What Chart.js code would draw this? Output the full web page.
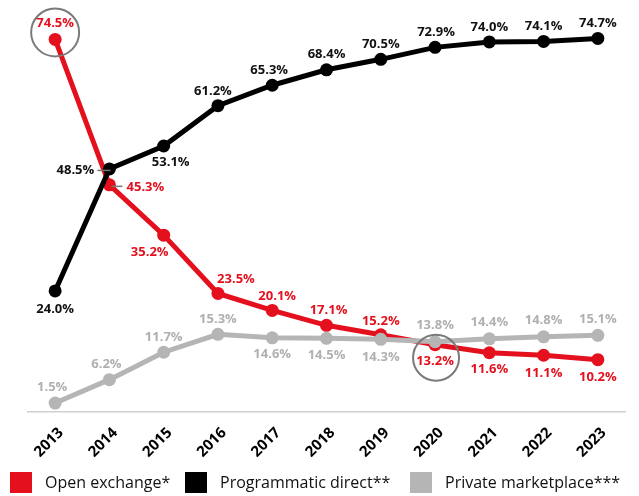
<!DOCTYPE html>
<html>
<head>
<meta charset="utf-8">
<script src="https://cdn.jsdelivr.net/npm/chart.js@4.4.0/dist/chart.umd.min.js"></script>
<style>
html,body{margin:0;padding:0;background:#fff;}
#wrap{position:relative;width:639px;height:496px;}
#legend{position:absolute;left:0;top:472px;width:639px;height:22px;font-family:"Open Sans","DejaVu Sans",sans-serif;font-size:16px;font-weight:500;color:#111;}
#legend .it{position:absolute;top:0;height:21px;line-height:21px;white-space:nowrap;}
#legend .sw{position:absolute;top:0;width:22px;height:21px;}
</style>
</head>
<body>
<div id="wrap"><canvas id="c" width="639" height="496"></canvas><div id="legend"></div></div>
<script>
const years = ['2013','2014','2015','2016','2017','2018','2019','2020','2021','2022','2023'];
const openExchange = [74.5, 45.3, 35.2, 23.5, 20.1, 17.1, 15.2, 13.2, 11.6, 11.1, 10.2];
const programmaticDirect = [24.0, 48.5, 53.1, 61.2, 65.3, 68.4, 70.5, 72.9, 74.0, 74.1, 74.7];
const privateMarketplace = [1.5, 6.2, 11.7, 15.3, 14.6, 14.5, 14.3, 13.8, 14.4, 14.8, 15.1];
const seriesNames = ['Open exchange*', 'Programmatic direct**', 'Private marketplace***'];

// label placement (style only): [dx, dy] relative to the point
const openLabelPos = [[0,-16],[36,2],[-14,17],[18,-14],[5,-14],[2,-15],[0,-14],[0,17],[0,17],[0,18],[0,18]];
const directLabelPos = [[0,18],[-34,1],[7,16],[-5,-14],[-3,-15],[0,-15],[0,-15],[1,-15],[0,-15],[0,-15],[0,-15]];
const privateLabelPos = [[-3,-16],[-3,-15],[0,-15],[0,-15],[0,17],[0,17],[0,18],[0,-16],[0,-16],[0,-16],[0,-16]];
const legendX = [10, 185, 410];

const RED = '#e5101d', BLACK = '#000000', GREY = '#b5b5b5';
const FONT = '"Open Sans", "DejaVu Sans", sans-serif';

const labelPlugin = {
  id: 'valueLabels',
  afterDatasetsDraw(chart) {
    const ctx = chart.ctx;
    const cfg = [
      {ds: 0, pos: openLabelPos, color: RED},
      {ds: 1, pos: directLabelPos, color: '#111'},
      {ds: 2, pos: privateLabelPos, color: '#b0b0b0'}
    ];
    const x = chart.scales.x, y = chart.scales.y;
    ctx.save();
    ctx.strokeStyle = '#7a7a7a';
    ctx.lineWidth = 2;
    const c1x = x.getPixelForValue(0), c1y = y.getPixelForValue(openExchange[0]);
    ctx.beginPath(); ctx.arc(c1x, c1y - 7, 24, 0, Math.PI * 2); ctx.stroke();
    const c2x = x.getPixelForValue(7), c2y = y.getPixelForValue(openExchange[7]);
    ctx.beginPath(); ctx.arc(c2x + 1, c2y + 13, 23, 0, Math.PI * 2); ctx.stroke();
    ctx.strokeStyle = '#777';
    ctx.lineWidth = 1.5;
    const p14 = x.getPixelForValue(1);
    const yd = y.getPixelForValue(programmaticDirect[1]);
    ctx.beginPath(); ctx.moveTo(p14 - 12, yd + 1.5); ctx.lineTo(p14 + 1, yd + 1.5); ctx.stroke();
    const yo = y.getPixelForValue(openExchange[1]);
    ctx.beginPath(); ctx.moveTo(p14 + 2, yo + 1.5); ctx.lineTo(p14 + 13, yo + 1.5); ctx.stroke();

    ctx.font = 'bold 13px ' + FONT;
    ctx.textAlign = 'center';
    ctx.textBaseline = 'middle';
    const dataArrs = [openExchange, programmaticDirect, privateMarketplace];
    cfg.forEach(c => {
      const meta = chart.getDatasetMeta(c.ds);
      ctx.fillStyle = c.color;
      meta.data.forEach((pt, i) => {
        const v = dataArrs[c.ds][i];
        ctx.fillText(v.toFixed(1) + '%', pt.x + c.pos[i][0], pt.y + c.pos[i][1]);
      });
    });
    ctx.restore();
  }
};

const mk = (label, data, color, order) => ({
  label, data, order,
  borderColor: color, backgroundColor: color,
  pointBackgroundColor: color, pointBorderColor: color,
  borderWidth: 5, pointRadius: 6.5, pointHoverRadius: 6.5, tension: 0,
  pointBorderWidth: 0
});

const datasets = [
  mk(seriesNames[0], openExchange, RED, 3),
  mk(seriesNames[1], programmaticDirect, BLACK, 1),
  mk(seriesNames[2], privateMarketplace, GREY, 2)
];

new Chart(document.getElementById('c'), {
  type: 'line',
  data: { labels: years, datasets },
  options: {
    responsive: false,
    animation: false,
    devicePixelRatio: 1,
    layout: { padding: { top: 12, left: 28, right: 14, bottom: 23 } },
    plugins: {
      tooltip: { enabled: false },
      legend: { display: false }
    },
    scales: {
      x: {
        offset: true,
        grid: { display: false, drawTicks: false },
        border: { display: true, color: '#cfcfcf', width: 1.5 },
        ticks: {
          minRotation: 45, maxRotation: 45, padding: 12, labelOffset: 6,
          color: '#000',
          font: { family: FONT, size: 15, weight: 'bold' }
        }
      },
      y: { display: false, min: -0.3, max: 80 }
    }
  },
  plugins: [labelPlugin]
});

const lg = document.getElementById('legend');
datasets.forEach((d, i) => {
  const sw = document.createElement('div');
  sw.className = 'sw'; sw.style.left = legendX[i] + 'px'; sw.style.background = d.borderColor;
  const t = document.createElement('div');
  t.className = 'it'; t.style.left = (legendX[i] + 35) + 'px'; t.textContent = d.label;
  lg.appendChild(sw); lg.appendChild(t);
});
</script>
</body>
</html>
